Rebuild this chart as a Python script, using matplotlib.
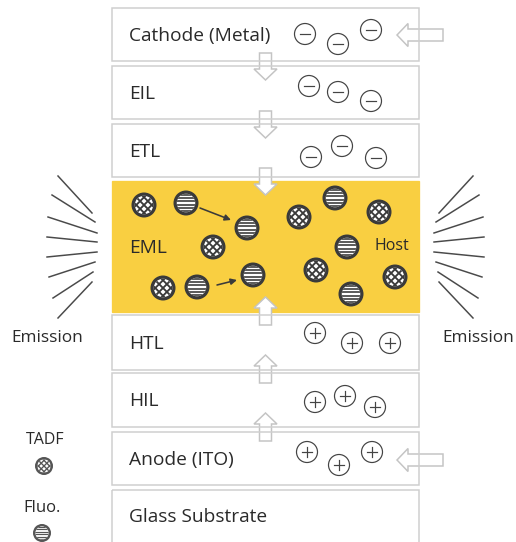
import numpy as np
import matplotlib
matplotlib.use("Agg")
import matplotlib.pyplot as plt
from matplotlib.patches import Rectangle, Circle, FancyArrow

plt.rcParams['font.family'] = ['Open Sans', 'DejaVu Sans']

# layer stack (pixel coordinates, y grows downward)
layers = ["Cathode (Metal)", "EIL", "ETL", "EML", "HTL", "HIL", "Anode (ITO)", "Glass Substrate"]
layer_top = [8, 66, 124, 181, 315, 373, 432, 490]
layer_bot = [61, 119, 177, 312, 370, 427, 485, 548]

# charges
minus_x = [305, 338, 371, 309, 338, 371, 311, 342, 376]
minus_y = [34, 44, 30, 86, 92, 101, 157, 146, 158]
plus_x = [315, 352, 390, 315, 345, 375, 307, 339, 372]
plus_y = [333, 343, 343, 402, 396, 407, 452, 465, 452]

# emitters in the EML
tadf_x = [144, 213, 163, 299, 379, 316, 395]
tadf_y = [205, 247, 288, 217, 212, 270, 277]
fluo_x = [186, 247, 197, 253, 335, 347, 351]
fluo_y = [203, 228, 287, 275, 198, 247, 294]

# energy-transfer arrows (start, end)
transfer = [((200, 208), (231, 220)), ((217, 285), (237, 280))]

# charge-flow arrows (tail y, tip y)
down_arrows = [(53, 80), (111, 138), (168, 195)]
up_arrows = [(325, 297), (383, 355), (441, 413)]
side_arrows_y = [35, 460]

# emission rays on the left side (inner, outer)
rays = [((92, 213), (58, 176)), ((95, 222), (52, 195)), ((97, 233), (48, 217)),
        ((97, 242), (47, 237)), ((97, 252), (47, 257)), ((95, 262), (49, 277)),
        ((93, 272), (53, 298)), ((92, 282), (58, 318))]

BOX_L, BOX_R = 112, 419
XMID = 265.5
YELLOW = '#F9CF41'
DARK = '#3a3a3a'
GRAY = '#cfcfcf'
TEXT = '#2a2a2a'

fig = plt.figure(figsize=(5.16, 5.42), dpi=100)
ax = fig.add_axes([0, 0, 1, 1])
ax.set_xlim(0, 516)
ax.set_ylim(542, 0)
ax.axis('off')


def px(p):
    return p * 72 / 100


def tadf(x, y, r=12.5, col=DARK):
    ax.add_patch(Circle((x, y), r, fc=col, ec='none', zorder=5))
    inner = Circle((x, y), r * 0.74, fc='white', ec='none', zorder=6)
    ax.add_patch(inner)
    s = r * 0.62
    for k in np.arange(-2, 3):
        for sgn in (1, -1):
            xs = np.array([x - r, x + r])
            ys = y + sgn * (xs - x) + k * s
            ln, = ax.plot(xs, ys, color=col, lw=px(r * 0.15), zorder=7)
            ln.set_clip_path(inner)


def fluo(x, y, r=12.5, col=DARK):
    ax.add_patch(Circle((x, y), r, fc=col, ec='none', zorder=5))
    inner = Circle((x, y), r * 0.74, fc='white', ec='none', zorder=6)
    ax.add_patch(inner)
    for yy in y + np.arange(-3.5, 4, 1) * r * 0.27:
        ln, = ax.plot([x - r, x + r], [yy, yy], color=col, lw=px(r * 0.13), zorder=7)
        ln.set_clip_path(inner)


def hollow_arrow(x, y, dx, dy):
    ax.add_patch(FancyArrow(x, y, dx, dy, width=12, head_width=23, head_length=11,
                            length_includes_head=True, fc='white', ec='#c4c4c4',
                            lw=px(1.5), zorder=3))


# side arrows go under the boxes
for yy in side_arrows_y:
    hollow_arrow(443, yy, -46, 0)

for i, name in enumerate(layers):
    h = layer_bot[i] - layer_top[i]
    if name == "EML":
        ax.add_patch(Rectangle((BOX_L, layer_top[i]), BOX_R - BOX_L, h,
                               fc=YELLOW, ec=YELLOW, lw=px(1.3), zorder=2))
    else:
        ax.add_patch(Rectangle((BOX_L, layer_top[i]), BOX_R - BOX_L, h,
                               fc='none', ec=GRAY, lw=px(1.5), zorder=4))
    ax.text(129, (layer_top[i] + min(layer_bot[i], 542)) / 2 + 1.5, name,
            fontsize=13.8, color=TEXT, ha='left', va='center', zorder=8)

ax.text(375, 246, "Host", fontsize=11.5, color=TEXT, ha='left', va='center', zorder=8)

for t0, t1 in down_arrows + up_arrows:
    hollow_arrow(XMID, t0, 0, t1 - t0)

# charges
for x, y in zip(minus_x, minus_y):
    ax.add_patch(Circle((x, y), 10.5, fc='white', ec='#444444', lw=px(1.2), zorder=5))
    ax.plot([x - 5, x + 5], [y, y], color='#444444', lw=px(1.2), zorder=6)
for x, y in zip(plus_x, plus_y):
    ax.add_patch(Circle((x, y), 10.5, fc='white', ec='#444444', lw=px(1.2), zorder=5))
    ax.plot([x - 5, x + 5], [y, y], color='#444444', lw=px(1.2), zorder=6)
    ax.plot([x, x], [y - 5, y + 5], color='#444444', lw=px(1.2), zorder=6)

for x, y in zip(tadf_x, tadf_y):
    tadf(x, y)
for x, y in zip(fluo_x, fluo_y):
    fluo(x, y)

for (x0, y0), (x1, y1) in transfer:
    ax.annotate('', xy=(x1, y1), xytext=(x0, y0), zorder=8,
                arrowprops=dict(arrowstyle='-|>', color=DARK, lw=px(1.6),
                                mutation_scale=9, shrinkA=0, shrinkB=0))

# emission rays, mirrored on the right
for (x0, y0), (x1, y1) in rays:
    ax.plot([x0, x1], [y0, y1], color='#4a4a4a', lw=px(1.5), zorder=3)
    ax.plot([531 - x0, 531 - x1], [y0, y1], color='#4a4a4a', lw=px(1.5), zorder=3)

ax.text(47, 338, "Emission", fontsize=12.4, color=TEXT, ha='center', va='center')
ax.text(514, 338, "Emission", fontsize=12.4, color=TEXT, ha='right', va='center')

# legend
ax.text(45, 440, "TADF", fontsize=11.5, color=TEXT, ha='center', va='center')
tadf(44, 466, r=9, col='#555555')
ax.text(42, 508, "Fluo.", fontsize=12, color=TEXT, ha='center', va='center')
fluo(42, 533, r=9, col='#555555')

fig.savefig("out.png", dpi=100, facecolor='white')
